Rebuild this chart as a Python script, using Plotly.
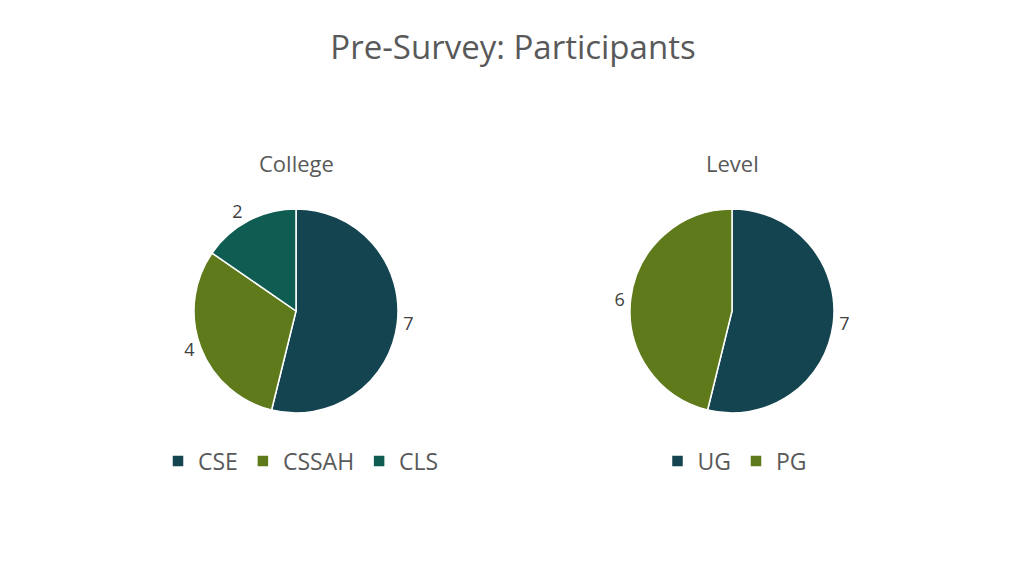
import plotly.graph_objects as go

college_labels = ["CSE", "CSSAH", "CLS"]
college_values = [7, 4, 2]
level_labels = ["UG", "PG"]
level_values = [7, 6]

college_colors = ["#13444F", "#5E7A1A", "#0E5C52"]
level_colors = ["#13444F", "#5E7A1A"]

W, H = 1024, 576
OFF = 8  # page body margin
FONT = "'Open Sans', sans-serif"
GRAY = "#595959"

def px(x):
    return (x - OFF) / W

def py(y):
    return 1 - (y - OFF) / H

def dom(cx, cy, r):
    return dict(x=[px(cx - r), px(cx + r)], y=[py(cy + r), py(cy - r)])

fig = go.Figure()
fig.add_trace(go.Pie(
    labels=college_labels, values=college_values, sort=False, direction="clockwise",
    rotation=0, marker=dict(colors=college_colors, line=dict(color="white", width=1.5)),
    textinfo="value", textposition="outside", textfont=dict(size=18, color="#404040", family=FONT),
    domain=dom(296, 311, 102), legend="legend", hoverinfo="label+value"))
fig.add_trace(go.Pie(
    labels=level_labels, values=level_values, sort=False, direction="clockwise",
    rotation=0, marker=dict(colors=level_colors, line=dict(color="white", width=1.5)),
    textinfo="value", textposition="outside", textfont=dict(size=18, color="#404040", family=FONT),
    domain=dom(732, 311, 102), legend="legend2", hoverinfo="label+value"))

fig.update_layout(
    width=W, height=H, paper_bgcolor="white", plot_bgcolor="white",
    margin=dict(l=0, r=0, t=0, b=0),
    font=dict(family=FONT, color=GRAY),
    title=dict(text="Pre-Survey: Participants", x=px(513), xanchor="center", y=py(47), yanchor="middle",
               font=dict(size=33, color=GRAY, family=FONT)),
    legend=dict(orientation="h", x=px(301), xanchor="center", y=py(461), yanchor="middle",
                font=dict(size=23, color=GRAY), itemwidth=30, tracegroupgap=0),
    legend2=dict(orientation="h", x=px(735), xanchor="center", y=py(461), yanchor="middle",
                 font=dict(size=23, color=GRAY), itemwidth=30, tracegroupgap=0),
    annotations=[
        dict(text="College", x=px(296), y=py(163), xref="paper", yref="paper", showarrow=False,
             font=dict(size=22, color=GRAY, family=FONT), xanchor="center", yanchor="middle"),
        dict(text="Level", x=px(732), y=py(163), xref="paper", yref="paper", showarrow=False,
             font=dict(size=22, color=GRAY, family=FONT), xanchor="center", yanchor="middle"),
    ],
)

fig.write_html("out.html")
